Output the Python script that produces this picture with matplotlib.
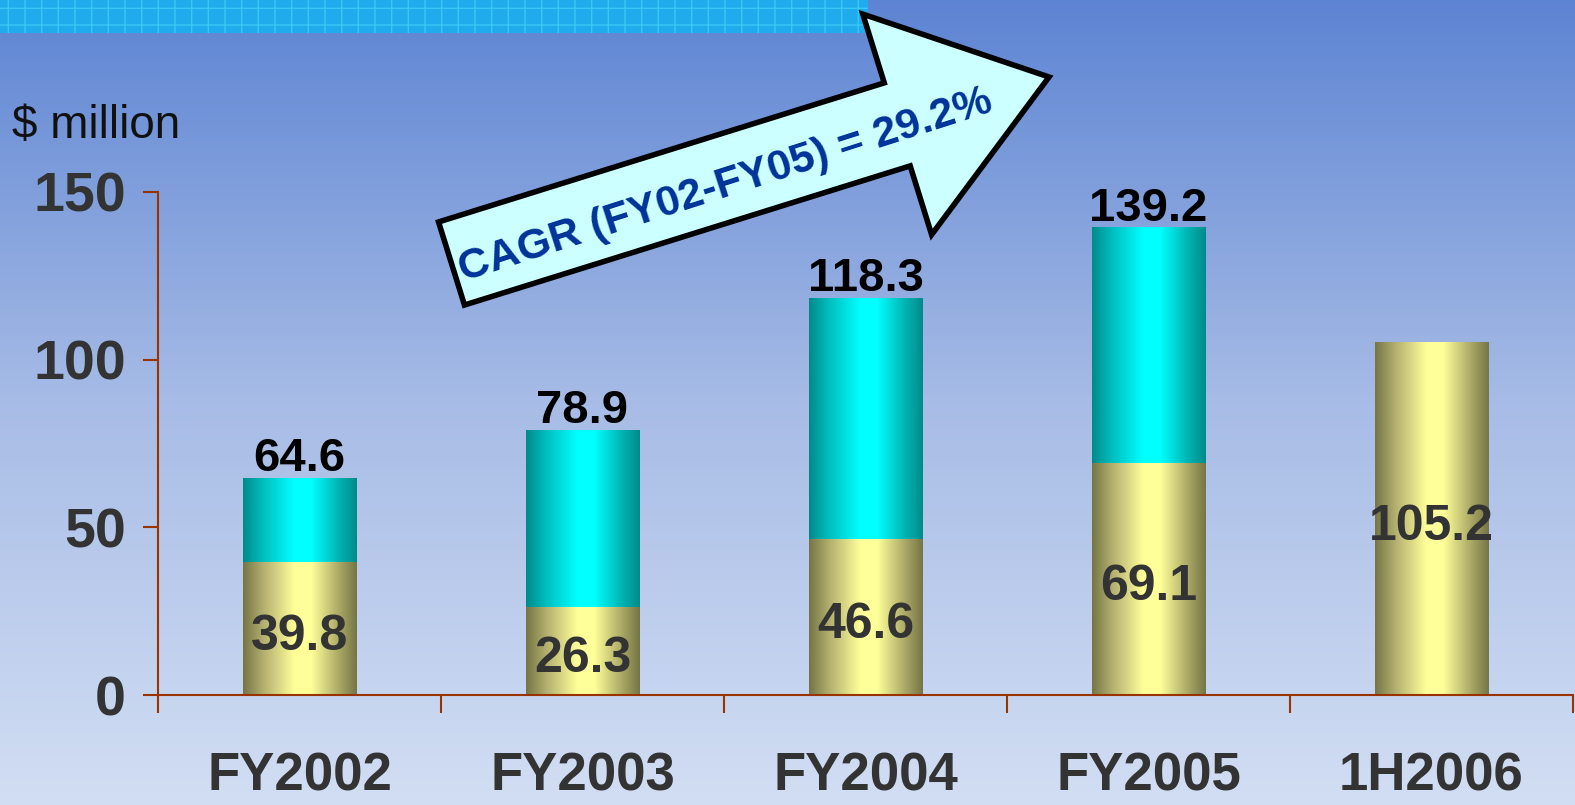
import numpy as np
import matplotlib.pyplot as plt
from matplotlib.colors import LinearSegmentedColormap
from matplotlib.patches import FancyArrow, Rectangle
from matplotlib.transforms import IdentityTransform

categories = ["FY2002", "FY2003", "FY2004", "FY2005", "1H2006"]
base_vals = [39.8, 26.3, 46.6, 69.1, 105.2]
top_vals = [24.8, 52.6, 71.7, 70.1, 0.0]
totals = [64.6, 78.9, 118.3, 139.2, None]
y_ticks = [0, 50, 100, 150]
cagr_text = "CAGR (FY02-FY05) = 29.2%"

plt.rcParams['font.family'] = ['Liberation Sans', 'DejaVu Sans']
plt.rcParams['font.weight'] = 'bold'

W, H = 1575, 805
fig = plt.figure(figsize=(W / 100, H / 100), dpi=100)

# background gradient
bg = fig.add_axes([0, 0, 1, 1], zorder=-10)
bg_cmap = LinearSegmentedColormap.from_list("bg", ["#d2def3", "#a7bce6", "#5d84d3"])
bg.imshow(np.linspace(0, 1, 256).reshape(-1, 1)[::-1], cmap=bg_cmap,
          aspect='auto', extent=(0, 1, 0, 1))
bg.axis('off')

# cyan band at top
fig.patches.append(Rectangle((0, 1 - 33 / H), 868 / W, 33 / H, transform=fig.transFigure,
                             facecolor="#20acec", edgecolor="#3cc6f6", hatch='+',
                             linewidth=0, zorder=-5))

spine_col = "#993300"
ax = fig.add_axes([158 / W, (H - 695) / H, 1415 / W, 503 / H])
ax.set_facecolor('none')

yellow = LinearSegmentedColormap.from_list("yel", [(0, "#767646"), (0.18, "#b4b070"),
                                                    (0.45, "#ffff99"), (0.6, "#ffff99"),
                                                    (0.85, "#a9a764"), (1, "#767646")])
cyan = LinearSegmentedColormap.from_list("cya", [(0, "#008b8b"), (0.18, "#00c0c0"),
                                                  (0.45, "#00ffff"), (0.6, "#00ffff"),
                                                  (0.85, "#00b2b2"), (1, "#008b8b")])
grad = np.linspace(0, 1, 200).reshape(1, -1)

x = np.arange(len(categories))
b1 = ax.bar(x, base_vals, width=0.4, color='none')
b2 = ax.bar(x, top_vals, width=0.4, bottom=base_vals, color='none')
for bars, cm in ((b1, yellow), (b2, cyan)):
    for r in bars:
        if r.get_height() <= 0:
            continue
        x0, y0, w, h = r.get_x(), r.get_y(), r.get_width(), r.get_height()
        ax.imshow(grad, cmap=cm, aspect='auto', extent=(x0, x0 + w, y0, y0 + h), zorder=2)

for i, v in enumerate(base_vals):
    ax.annotate(f"{v}", (i, v / 2), xytext=(0, -6), textcoords='offset points',
                ha='center', va='center', fontsize=36, color="#333333", zorder=4)
for i, t in enumerate(totals):
    if t is None:
        continue
    ax.annotate(f"{t}", (i, t), xytext=(0, 5), textcoords='offset points',
                ha='center', va='baseline', fontsize=34, color='black')

ax.set_xlim(-0.5, 4.5)
ax.set_ylim(0, 150)
ax.set_xticks(x, categories)
ax.set_xticks(np.arange(-0.5, 5, 1), minor=True)
ax.set_yticks(y_ticks)
ax.tick_params(axis='x', which='major', length=0, pad=41, labelsize=38, labelcolor="#333333")
ax.tick_params(axis='x', which='minor', length=13, width=1.5, color=spine_col)
ax.tick_params(axis='y', length=11, width=1.5, color=spine_col, pad=12,
               labelsize=40, labelcolor="#333333")
for s in ('top', 'right'):
    ax.spines[s].set_visible(False)
for s in ('left', 'bottom'):
    ax.spines[s].set_color(spine_col)
    ax.spines[s].set_linewidth(1.5)

fig.text(12 / W, 1 - 138 / H, "$ million", ha='left', va='baseline', fontsize=33,
         fontweight='normal', color='#111111')

# CAGR arrow (display pixel coordinates, y up)
tail = (451.5, H - 263.5)
tip = (1049, H - 77)
arrow = FancyArrow(tail[0], tail[1], tip[0] - tail[0], tip[1] - tail[1],
                   width=87, head_width=231, head_length=159, length_includes_head=True,
                   transform=IdentityTransform(), facecolor="#ccffff", edgecolor='black',
                   linewidth=4, joinstyle='miter', zorder=5)
fig.patches.append(arrow)
fig.text(726 / W, 1 - 186 / H, cagr_text, ha='center', va='center', rotation=17.8,
         rotation_mode='anchor', fontsize=31, color="#003399", zorder=6)

fig.savefig("out.png", dpi=100)
